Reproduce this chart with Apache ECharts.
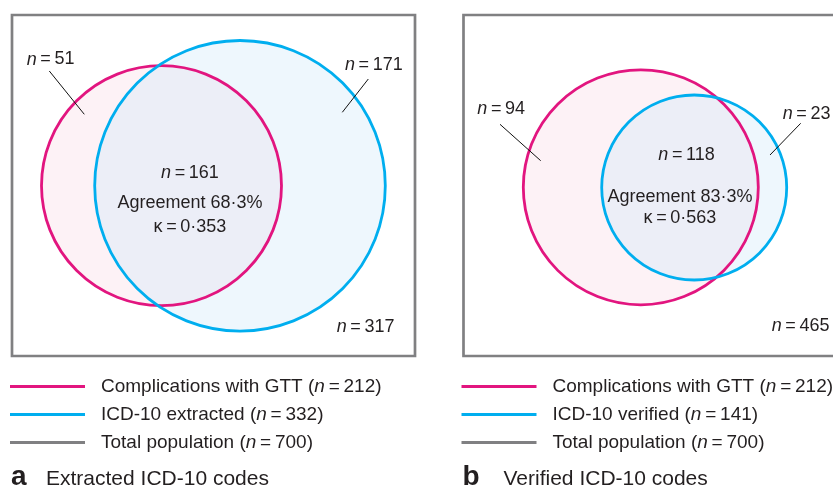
<!DOCTYPE html>
<html>
<head>
<meta charset="utf-8">
<script src="https://cdn.jsdelivr.net/npm/echarts@6/dist/echarts.min.js"></script>
<style>html,body{margin:0;padding:0;background:#fff}#chart{width:833px;height:488px}</style>
</head>
<body>
<div id="chart"></div>
<script>
// ---------------- data ----------------
const captionLetters = ['a', 'b'];
const captionTexts = ['Extracted ICD-10 codes', 'Verified ICD-10 codes'];
const gttNames = ['Complications with GTT', 'Complications with GTT'];
const gttCounts = [212, 212];
const icdNames = ['ICD-10 extracted', 'ICD-10 verified'];
const icdCounts = [332, 141];
const totalName = 'Total population';
const totalCounts = [700, 700];
// region counts
const gttOnly = [51, 94];
const bothCodes = [161, 118];
const icdOnly = [171, 23];
const neither = [317, 465];
const agreement = ['68·3%', '83·3%'];
const kappa = ['0·353', '0·563'];

// ---------------- layout (axis units: each box spans 0..403 x 0..341) ----------------
const boxExtent = [403, 341];
const gttCircle = [[149.5, 170.7, 120], [177.3, 172.3, 117.5]];
const icdCircle = [[228, 170.8, 145.3], [230.7, 172.5, 92.5]];
const gttOnlyPos = [[14.7, 44.5], [13.8, 94.3]];
const icdOnlyPos = [[333, 50], [319.2, 99.3]];
const bothPos = [[178, 157.7], [223, 140]];
const agreePos = [[178, 188.3], [216.5, 181.7]];
const kappaPos = [[178, 211.7], [216.5, 203.3]];
const neitherPos = [[324.7, 311.7], [308.2, 311]];
const gttLeader = [[37.3, 56, 72.3, 99.3], [36.5, 109.3, 77.2, 145.7]];
const icdLeader = [[356.3, 64, 330.3, 97.3], [337.2, 108.3, 306.5, 140]];
const gridLeft = [12, 463.5];
const visibleWidth = [403, 369]; // panel b is cut off by the right edge of the picture

// ---------------- styles ----------------
const FONT = '"Liberation Sans", Arial, Helvetica, sans-serif';
const TXT = '#231f20';
const PINK = '#e2157f';
const BLUE = '#00aeef';
const GRAY = '#808082';
const TS = '\u2009';

const nLabel = v => `{i|n}${TS}=${TS}${v}`;
const legName = (name, n) => `${name} (n=${n})`;

const chart = echarts.init(document.getElementById('chart'), null, {renderer: 'canvas'});

const grids = [], xAxes = [], yAxes = [], series = [], legends = [], titles = [];

for (let i = 0; i < 2; i++) {
  grids.push({left: gridLeft[i], top: 15, width: visibleWidth[i], height: 341, show: false});
  xAxes.push({type: 'value', gridIndex: i, min: 0, max: visibleWidth[i], show: false});
  yAxes.push({type: 'value', gridIndex: i, min: 0, max: boxExtent[1], inverse: true, show: false});

  const gName = legName(gttNames[i], gttCounts[i]);
  const iName = legName(icdNames[i], icdCounts[i]);
  const tName = legName(totalName, totalCounts[i]);

  // total population box
  series.push({
    type: 'custom', name: tName, xAxisIndex: i, yAxisIndex: i, z: 2, clip: false,
    itemStyle: {color: GRAY},
    data: [[0, 0, boxExtent[0], boxExtent[1]]],
    renderItem: (params, api) => {
      const p0 = api.coord([api.value(0), api.value(1)]);
      const p1 = api.coord([api.value(2), api.value(3)]);
      return {type: 'rect', z2: 12,
        shape: {x: p0[0], y: p0[1], width: p1[0] - p0[0], height: p1[1] - p0[1]},
        style: {fill: 'none', stroke: GRAY, lineWidth: 2.7}};
    }
  });

  const circleSeries = (name, circ, color, fill, zf, zs) => ({
    type: 'custom', name, xAxisIndex: i, yAxisIndex: i, z: 2, clip: false,
    itemStyle: {color},
    data: [circ],
    renderItem: (params, api) => {
      const c = api.coord([api.value(0), api.value(1)]);
      const r = api.size([api.value(2), 0])[0];
      return {type: 'group', children: [
        {type: 'circle', z2: zf, shape: {cx: c[0], cy: c[1], r}, style: {fill, stroke: 'none'}},
        {type: 'circle', z2: zs, shape: {cx: c[0], cy: c[1], r}, style: {fill: 'none', stroke: color, lineWidth: 2.8}}
      ]};
    }
  });
  series.push(circleSeries(gName, gttCircle[i], PINK, '#fdf2f6', 0, 10));
  series.push(circleSeries(iName, icdCircle[i], BLUE, 'rgba(198,228,248,0.3)', 1, 11));

  // region labels
  const labels = [
    {pos: gttOnlyPos[i], text: nLabel(gttOnly[i]), align: 'left'},
    {pos: icdOnlyPos[i], text: nLabel(icdOnly[i]), align: 'left'},
    {pos: bothPos[i], text: nLabel(bothCodes[i]), align: 'center'},
    {pos: agreePos[i], text: 'Agreement ' + agreement[i], align: 'center'},
    {pos: kappaPos[i], text: `κ${TS}=${TS}${kappa[i]}`, align: 'center'},
    {pos: neitherPos[i], text: nLabel(neither[i]), align: 'left'}
  ];
  series.push({
    type: 'custom', name: 'labels' + i, xAxisIndex: i, yAxisIndex: i, z: 3, silent: true, clip: false,
    data: labels.map(l => l.pos),
    renderItem: (params, api) => {
      const l = labels[params.dataIndex];
      const p = api.coord([api.value(0), api.value(1)]);
      return {type: 'text', x: p[0], y: p[1], style: {
        text: l.text, fill: TXT, fontSize: 18, fontFamily: FONT,
        align: l.align, verticalAlign: 'middle',
        rich: {i: {fontStyle: 'italic', fontSize: 18, fontFamily: FONT, fill: TXT}}
      }};
    }
  });
  series.push({
    type: 'custom', name: 'leaders' + i, xAxisIndex: i, yAxisIndex: i, z: 3, silent: true, clip: false,
    data: [gttLeader[i], icdLeader[i]],
    renderItem: (params, api) => {
      const a = api.coord([api.value(0), api.value(1)]);
      const b = api.coord([api.value(2), api.value(3)]);
      return {type: 'line', shape: {x1: a[0], y1: a[1], x2: b[0], y2: b[1]},
        style: {stroke: '#111', lineWidth: 1}};
    }
  });

  legends.push({
    orient: 'vertical', left: gridLeft[i] - 2, top: 376.5, padding: 0,
    itemWidth: 75, itemHeight: 3, itemGap: 8, icon: 'rect', selectedMode: false,
    data: [gName, iName, tName],
    formatter: name => name.replace('(n=', `({i|n}${TS}=${TS}`),
    textStyle: {fontSize: 19, fontFamily: FONT, color: TXT, lineHeight: 20, padding: [0, 0, 0, 11],
      rich: {i: {fontStyle: 'italic', fontSize: 19, fontFamily: FONT, color: TXT}}}
  });

  titles.push({text: captionLetters[i], left: gridLeft[i] - 1, top: 463, padding: 0,
    textStyle: {fontSize: 28, fontWeight: 'bold', fontFamily: FONT, color: TXT, lineHeight: 28}});
  titles.push({text: captionTexts[i], left: gridLeft[i] + (i === 0 ? 34 : 40), top: 469, padding: 0,
    textStyle: {fontSize: 21, fontWeight: 'normal', fontFamily: FONT, color: TXT, lineHeight: 21}});
}

chart.setOption({
  animation: false,
  backgroundColor: '#fff',
  title: titles,
  legend: legends,
  grid: grids,
  xAxis: xAxes,
  yAxis: yAxes,
  series
});
</script>
</body>
</html>
